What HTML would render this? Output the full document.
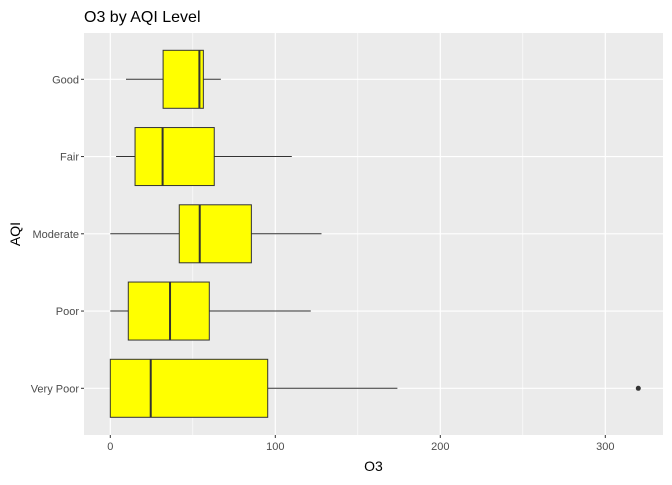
<!DOCTYPE html>
<html><head><meta charset="utf-8"><style>
body{margin:0;background:#fff;font-family:"Liberation Sans",sans-serif}
</style></head><body>
<svg id="c" width="672" height="480" xmlns="http://www.w3.org/2000/svg"></svg>
<script>
const categories=["Good","Fair","Moderate","Poor","Very Poor"];
const lowW=[9.5,3.5,0,0,0];
const q1=[32,15,41.8,10.9,0];
const med=[54,31.7,54.2,36.2,24.5];
const q3=[56.4,63,85.5,60,95.4];
const highW=[67,110,128,121.5,174];
const outliers=[[],[],[],[],[320]];
const xTicks=[0,100,200,300];
const L=84,R=663,T=33,B=435;
const x=v=>110.3+v*1.65;
const y=i=>79.3+i*77.25;
const svg=document.getElementById('c');
const NS='http://www.w3.org/2000/svg';
function mk(tag,attrs,parent){const e=document.createElementNS(NS,tag);for(const k in attrs)e.setAttribute(k,attrs[k]);(parent||svg).appendChild(e);return e;}
let p=mk('rect',{x:L,y:T,width:R-L,height:B-T,fill:'#ebebeb'});


for(let i=0;i<xTicks.length-1;i++){const m=(xTicks[i]+xTicks[i+1])/2;let g=mk('line',{x1:x(m),x2:x(m),y1:T,y2:B,stroke:'#fff','stroke-width':0.6});

}
xTicks.forEach(t=>{let g=mk('line',{x1:x(t),x2:x(t),y1:T,y2:B,stroke:'#fff','stroke-width':1.2});


let k=mk('line',{x1:x(t),x2:x(t),y1:B,y2:B+3,stroke:'#333'});


let tx=mk('text',{x:x(t),y:B+15,'text-anchor':'middle','font-size':11,fill:'#4d4d4d'});tx.textContent=t;

});
categories.forEach((c,i)=>{let g=mk('line',{x1:L,x2:R,y1:y(i),y2:y(i),stroke:'#fff','stroke-width':1.2});


let k=mk('line',{x1:L-3,x2:L,y1:y(i),y2:y(i),stroke:'#333'});


let tx=mk('text',{x:L-5,y:y(i)+4,'text-anchor':'end','font-size':11,fill:'#4d4d4d'});tx.textContent=c;

});
const h=58;
categories.forEach((c,i)=>{const cy=y(i);
let w1=mk('line',{x1:x(lowW[i]),x2:x(q1[i]),y1:cy,y2:cy,stroke:'#333','stroke-width':1});


let w2=mk('line',{x1:x(q3[i]),x2:x(highW[i]),y1:cy,y2:cy,stroke:'#333','stroke-width':1});


let b=mk('rect',{x:x(q1[i]),y:cy-h/2,width:x(q3[i])-x(q1[i]),height:h,fill:'#ffff00',stroke:'#333','stroke-width':1});


let m=mk('line',{x1:x(med[i]),x2:x(med[i]),y1:cy-h/2,y2:cy+h/2,stroke:'#333','stroke-width':2});


outliers[i].forEach(o=>{let d=mk('circle',{cx:x(o),cy:cy,r:2.5,fill:'#333'});

});});
let t=mk('text',{x:84,y:22,'font-size':16,fill:'#000'});t.textContent='O3 by AQI Level';


let xl=mk('text',{x:(L+R)/2,y:471,'text-anchor':'middle','font-size':14,fill:'#000'});xl.textContent='O3';


let yl=mk('text',{x:0,y:0,'text-anchor':'middle','font-size':14,fill:'#000',transform:`translate(20,${(T+B)/2}) rotate(-90)`});yl.textContent='AQI';


</script>
</body></html>
